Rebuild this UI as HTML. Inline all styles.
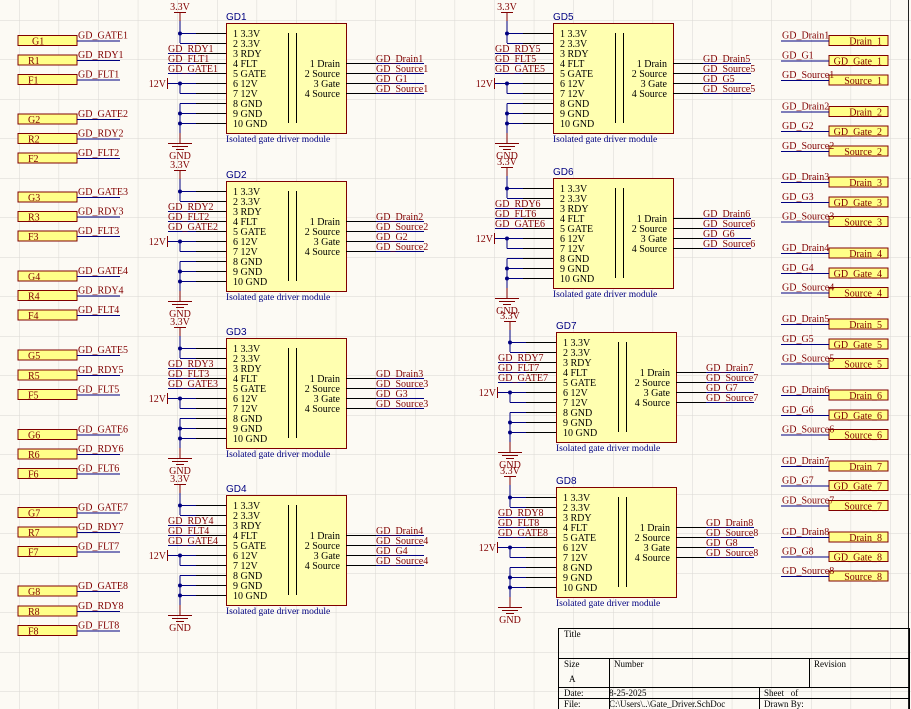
<!DOCTYPE html>
<html><head><meta charset="utf-8"><style>
html,body{margin:0;padding:0;background:#fcfaf4;}
svg{display:block;}
.t{font-family:"Liberation Serif",serif;font-size:10px;fill:#000;}
.n{font-family:"Liberation Serif",serif;font-size:10px;fill:#800000;}
.b{font-family:"Liberation Sans",sans-serif;font-size:10px;fill:#000080;}
.bs{font-family:"Liberation Serif",serif;font-size:9.5px;fill:#000080;}
.k{stroke:#000;stroke-width:1;}
.w{stroke:#000080;stroke-width:1;}
.r{stroke:#800000;stroke-width:1;}
.tb{font-family:"Liberation Serif",serif;font-size:9px;fill:#000;}
</style></head><body>
<svg width="911" height="709" viewBox="0 0 911 709" xmlns="http://www.w3.org/2000/svg">
<defs>
<pattern id="g" x="19" y="20" width="39.6" height="39.5" patternUnits="userSpaceOnUse">
<path d="M0 0H39.6M0 0V39.5" stroke="#d9d7d2" stroke-width="1" fill="none"/>
</pattern>
</defs>
<rect width="911" height="709" fill="#fcfaf4"/>
<rect width="911" height="709" fill="url(#g)"/>
<line x1="908.5" y1="0" x2="908.5" y2="709" stroke="#222" stroke-width="1"/>

<!-- LEFT PORTS -->
<g>
<g transform="translate(0,40.5)"><rect x="18" y="-5" width="59" height="10" fill="#ffff88" stroke="#800000"/><text class="n" x="32" y="4">G1</text><line class="w" x1="77" y1="0.5" x2="120" y2="0.5"/><text class="n" x="78" y="-2">GD_GATE1</text></g>
<g transform="translate(0,60)"><rect x="18" y="-5" width="59" height="10" fill="#ffff88" stroke="#800000"/><text class="n" x="28" y="4">R1</text><line class="w" x1="77" y1="0.5" x2="120" y2="0.5"/><text class="n" x="78" y="-2">GD_RDY1</text></g>
<g transform="translate(0,79.5)"><rect x="18" y="-5" width="59" height="10" fill="#ffff88" stroke="#800000"/><text class="n" x="28" y="4">F1</text><line class="w" x1="77" y1="0.5" x2="120" y2="0.5"/><text class="n" x="78" y="-2">GD_FLT1</text></g>

<g transform="translate(0,119)"><rect x="18" y="-5" width="59" height="10" fill="#ffff88" stroke="#800000"/><text class="n" x="28" y="4">G2</text><line class="w" x1="77" y1="0.5" x2="120" y2="0.5"/><text class="n" x="78" y="-2">GD_GATE2</text></g>
<g transform="translate(0,138.5)"><rect x="18" y="-5" width="59" height="10" fill="#ffff88" stroke="#800000"/><text class="n" x="28" y="4">R2</text><line class="w" x1="77" y1="0.5" x2="120" y2="0.5"/><text class="n" x="78" y="-2">GD_RDY2</text></g>
<g transform="translate(0,158)"><rect x="18" y="-5" width="59" height="10" fill="#ffff88" stroke="#800000"/><text class="n" x="28" y="4">F2</text><line class="w" x1="77" y1="0.5" x2="120" y2="0.5"/><text class="n" x="78" y="-2">GD_FLT2</text></g>

<g transform="translate(0,197)"><rect x="18" y="-5" width="59" height="10" fill="#ffff88" stroke="#800000"/><text class="n" x="28" y="4">G3</text><line class="w" x1="77" y1="0.5" x2="120" y2="0.5"/><text class="n" x="78" y="-2">GD_GATE3</text></g>
<g transform="translate(0,216.5)"><rect x="18" y="-5" width="59" height="10" fill="#ffff88" stroke="#800000"/><text class="n" x="28" y="4">R3</text><line class="w" x1="77" y1="0.5" x2="120" y2="0.5"/><text class="n" x="78" y="-2">GD_RDY3</text></g>
<g transform="translate(0,236)"><rect x="18" y="-5" width="59" height="10" fill="#ffff88" stroke="#800000"/><text class="n" x="28" y="4">F3</text><line class="w" x1="77" y1="0.5" x2="120" y2="0.5"/><text class="n" x="78" y="-2">GD_FLT3</text></g>

<g transform="translate(0,276)"><rect x="18" y="-5" width="59" height="10" fill="#ffff88" stroke="#800000"/><text class="n" x="28" y="4">G4</text><line class="w" x1="77" y1="0.5" x2="120" y2="0.5"/><text class="n" x="78" y="-2">GD_GATE4</text></g>
<g transform="translate(0,295.5)"><rect x="18" y="-5" width="59" height="10" fill="#ffff88" stroke="#800000"/><text class="n" x="28" y="4">R4</text><line class="w" x1="77" y1="0.5" x2="120" y2="0.5"/><text class="n" x="78" y="-2">GD_RDY4</text></g>
<g transform="translate(0,315)"><rect x="18" y="-5" width="59" height="10" fill="#ffff88" stroke="#800000"/><text class="n" x="28" y="4">F4</text><line class="w" x1="77" y1="0.5" x2="120" y2="0.5"/><text class="n" x="78" y="-2">GD_FLT4</text></g>

<g transform="translate(0,355)"><rect x="18" y="-5" width="59" height="10" fill="#ffff88" stroke="#800000"/><text class="n" x="28" y="4">G5</text><line class="w" x1="77" y1="0.5" x2="120" y2="0.5"/><text class="n" x="78" y="-2">GD_GATE5</text></g>
<g transform="translate(0,375)"><rect x="18" y="-5" width="59" height="10" fill="#ffff88" stroke="#800000"/><text class="n" x="28" y="4">R5</text><line class="w" x1="77" y1="0.5" x2="120" y2="0.5"/><text class="n" x="78" y="-2">GD_RDY5</text></g>
<g transform="translate(0,394.5)"><rect x="18" y="-5" width="59" height="10" fill="#ffff88" stroke="#800000"/><text class="n" x="28" y="4">F5</text><line class="w" x1="77" y1="0.5" x2="120" y2="0.5"/><text class="n" x="78" y="-2">GD_FLT5</text></g>

<g transform="translate(0,434.5)"><rect x="18" y="-5" width="59" height="10" fill="#ffff88" stroke="#800000"/><text class="n" x="28" y="4">G6</text><line class="w" x1="77" y1="0.5" x2="120" y2="0.5"/><text class="n" x="78" y="-2">GD_GATE6</text></g>
<g transform="translate(0,454)"><rect x="18" y="-5" width="59" height="10" fill="#ffff88" stroke="#800000"/><text class="n" x="28" y="4">R6</text><line class="w" x1="77" y1="0.5" x2="120" y2="0.5"/><text class="n" x="78" y="-2">GD_RDY6</text></g>
<g transform="translate(0,473.5)"><rect x="18" y="-5" width="59" height="10" fill="#ffff88" stroke="#800000"/><text class="n" x="28" y="4">F6</text><line class="w" x1="77" y1="0.5" x2="120" y2="0.5"/><text class="n" x="78" y="-2">GD_FLT6</text></g>

<g transform="translate(0,512.5)"><rect x="18" y="-5" width="59" height="10" fill="#ffff88" stroke="#800000"/><text class="n" x="28" y="4">G7</text><line class="w" x1="77" y1="0.5" x2="120" y2="0.5"/><text class="n" x="78" y="-2">GD_GATE7</text></g>
<g transform="translate(0,532)"><rect x="18" y="-5" width="59" height="10" fill="#ffff88" stroke="#800000"/><text class="n" x="28" y="4">R7</text><line class="w" x1="77" y1="0.5" x2="120" y2="0.5"/><text class="n" x="78" y="-2">GD_RDY7</text></g>
<g transform="translate(0,551.5)"><rect x="18" y="-5" width="59" height="10" fill="#ffff88" stroke="#800000"/><text class="n" x="28" y="4">F7</text><line class="w" x1="77" y1="0.5" x2="120" y2="0.5"/><text class="n" x="78" y="-2">GD_FLT7</text></g>

<g transform="translate(0,591)"><rect x="18" y="-5" width="59" height="10" fill="#ffff88" stroke="#800000"/><text class="n" x="28" y="4">G8</text><line class="w" x1="77" y1="0.5" x2="120" y2="0.5"/><text class="n" x="78" y="-2">GD_GATE8</text></g>
<g transform="translate(0,611)"><rect x="18" y="-5" width="59" height="10" fill="#ffff88" stroke="#800000"/><text class="n" x="28" y="4">R8</text><line class="w" x1="77" y1="0.5" x2="120" y2="0.5"/><text class="n" x="78" y="-2">GD_RDY8</text></g>
<g transform="translate(0,630.5)"><rect x="18" y="-5" width="59" height="10" fill="#ffff88" stroke="#800000"/><text class="n" x="28" y="4">F8</text><line class="w" x1="77" y1="0.5" x2="120" y2="0.5"/><text class="n" x="78" y="-2">GD_FLT8</text></g>
</g>

<!-- RIGHT PORTS -->
<g>
<g transform="translate(0,40.5)"><rect x="829" y="-5" width="59" height="10" fill="#ffff88" stroke="#800000"/><text class="n" x="882" y="4" text-anchor="end">Drain_1</text><line class="w" x1="781" y1="0.5" x2="829" y2="0.5"/><text class="n" x="782" y="-2">GD_Drain1</text></g>
<g transform="translate(0,60.5)"><rect x="829" y="-5" width="59" height="10" fill="#ffff88" stroke="#800000"/><text class="n" x="882" y="4" text-anchor="end">GD_Gate_1</text><line class="w" x1="781" y1="0.5" x2="829" y2="0.5"/><text class="n" x="782" y="-2">GD_G1</text></g>
<g transform="translate(0,80)"><rect x="829" y="-5" width="59" height="10" fill="#ffff88" stroke="#800000"/><text class="n" x="882" y="4" text-anchor="end">Source_1</text><line class="w" x1="781" y1="0.5" x2="829" y2="0.5"/><text class="n" x="782" y="-2">GD_Source1</text></g>

<g transform="translate(0,111.5)"><rect x="829" y="-5" width="59" height="10" fill="#ffff88" stroke="#800000"/><text class="n" x="882" y="4" text-anchor="end">Drain_2</text><line class="w" x1="781" y1="0.5" x2="829" y2="0.5"/><text class="n" x="782" y="-2">GD_Drain2</text></g>
<g transform="translate(0,131)"><rect x="829" y="-5" width="59" height="10" fill="#ffff88" stroke="#800000"/><text class="n" x="882" y="4" text-anchor="end">GD_Gate_2</text><line class="w" x1="781" y1="0.5" x2="829" y2="0.5"/><text class="n" x="782" y="-2">GD_G2</text></g>
<g transform="translate(0,151)"><rect x="829" y="-5" width="59" height="10" fill="#ffff88" stroke="#800000"/><text class="n" x="882" y="4" text-anchor="end">Source_2</text><line class="w" x1="781" y1="0.5" x2="829" y2="0.5"/><text class="n" x="782" y="-2">GD_Source2</text></g>

<g transform="translate(0,182)"><rect x="829" y="-5" width="59" height="10" fill="#ffff88" stroke="#800000"/><text class="n" x="882" y="4" text-anchor="end">Drain_3</text><line class="w" x1="781" y1="0.5" x2="829" y2="0.5"/><text class="n" x="782" y="-2">GD_Drain3</text></g>
<g transform="translate(0,202)"><rect x="829" y="-5" width="59" height="10" fill="#ffff88" stroke="#800000"/><text class="n" x="882" y="4" text-anchor="end">GD_Gate_3</text><line class="w" x1="781" y1="0.5" x2="829" y2="0.5"/><text class="n" x="782" y="-2">GD_G3</text></g>
<g transform="translate(0,221.5)"><rect x="829" y="-5" width="59" height="10" fill="#ffff88" stroke="#800000"/><text class="n" x="882" y="4" text-anchor="end">Source_3</text><line class="w" x1="781" y1="0.5" x2="829" y2="0.5"/><text class="n" x="782" y="-2">GD_Source3</text></g>

<g transform="translate(0,253)"><rect x="829" y="-5" width="59" height="10" fill="#ffff88" stroke="#800000"/><text class="n" x="882" y="4" text-anchor="end">Drain_4</text><line class="w" x1="781" y1="0.5" x2="829" y2="0.5"/><text class="n" x="782" y="-2">GD_Drain4</text></g>
<g transform="translate(0,273)"><rect x="829" y="-5" width="59" height="10" fill="#ffff88" stroke="#800000"/><text class="n" x="882" y="4" text-anchor="end">GD_Gate_4</text><line class="w" x1="781" y1="0.5" x2="829" y2="0.5"/><text class="n" x="782" y="-2">GD_G4</text></g>
<g transform="translate(0,292.5)"><rect x="829" y="-5" width="59" height="10" fill="#ffff88" stroke="#800000"/><text class="n" x="882" y="4" text-anchor="end">Source_4</text><line class="w" x1="781" y1="0.5" x2="829" y2="0.5"/><text class="n" x="782" y="-2">GD_Source4</text></g>

<g transform="translate(0,324)"><rect x="829" y="-5" width="59" height="10" fill="#ffff88" stroke="#800000"/><text class="n" x="882" y="4" text-anchor="end">Drain_5</text><line class="w" x1="781" y1="0.5" x2="829" y2="0.5"/><text class="n" x="782" y="-2">GD_Drain5</text></g>
<g transform="translate(0,344)"><rect x="829" y="-5" width="59" height="10" fill="#ffff88" stroke="#800000"/><text class="n" x="882" y="4" text-anchor="end">GD_Gate_5</text><line class="w" x1="781" y1="0.5" x2="829" y2="0.5"/><text class="n" x="782" y="-2">GD_G5</text></g>
<g transform="translate(0,363.5)"><rect x="829" y="-5" width="59" height="10" fill="#ffff88" stroke="#800000"/><text class="n" x="882" y="4" text-anchor="end">Source_5</text><line class="w" x1="781" y1="0.5" x2="829" y2="0.5"/><text class="n" x="782" y="-2">GD_Source5</text></g>

<g transform="translate(0,395)"><rect x="829" y="-5" width="59" height="10" fill="#ffff88" stroke="#800000"/><text class="n" x="882" y="4" text-anchor="end">Drain_6</text><line class="w" x1="781" y1="0.5" x2="829" y2="0.5"/><text class="n" x="782" y="-2">GD_Drain6</text></g>
<g transform="translate(0,415)"><rect x="829" y="-5" width="59" height="10" fill="#ffff88" stroke="#800000"/><text class="n" x="882" y="4" text-anchor="end">GD_Gate_6</text><line class="w" x1="781" y1="0.5" x2="829" y2="0.5"/><text class="n" x="782" y="-2">GD_G6</text></g>
<g transform="translate(0,434.5)"><rect x="829" y="-5" width="59" height="10" fill="#ffff88" stroke="#800000"/><text class="n" x="882" y="4" text-anchor="end">Source_6</text><line class="w" x1="781" y1="0.5" x2="829" y2="0.5"/><text class="n" x="782" y="-2">GD_Source6</text></g>

<g transform="translate(0,466)"><rect x="829" y="-5" width="59" height="10" fill="#ffff88" stroke="#800000"/><text class="n" x="882" y="4" text-anchor="end">Drain_7</text><line class="w" x1="781" y1="0.5" x2="829" y2="0.5"/><text class="n" x="782" y="-2">GD_Drain7</text></g>
<g transform="translate(0,485.5)"><rect x="829" y="-5" width="59" height="10" fill="#ffff88" stroke="#800000"/><text class="n" x="882" y="4" text-anchor="end">GD_Gate_7</text><line class="w" x1="781" y1="0.5" x2="829" y2="0.5"/><text class="n" x="782" y="-2">GD_G7</text></g>
<g transform="translate(0,505.5)"><rect x="829" y="-5" width="59" height="10" fill="#ffff88" stroke="#800000"/><text class="n" x="882" y="4" text-anchor="end">Source_7</text><line class="w" x1="781" y1="0.5" x2="829" y2="0.5"/><text class="n" x="782" y="-2">GD_Source7</text></g>

<g transform="translate(0,537)"><rect x="829" y="-5" width="59" height="10" fill="#ffff88" stroke="#800000"/><text class="n" x="882" y="4" text-anchor="end">Drain_8</text><line class="w" x1="781" y1="0.5" x2="829" y2="0.5"/><text class="n" x="782" y="-2">GD_Drain8</text></g>
<g transform="translate(0,556.5)"><rect x="829" y="-5" width="59" height="10" fill="#ffff88" stroke="#800000"/><text class="n" x="882" y="4" text-anchor="end">GD_Gate_8</text><line class="w" x1="781" y1="0.5" x2="829" y2="0.5"/><text class="n" x="782" y="-2">GD_G8</text></g>
<g transform="translate(0,576)"><rect x="829" y="-5" width="59" height="10" fill="#ffff88" stroke="#800000"/><text class="n" x="882" y="4" text-anchor="end">Source_8</text><line class="w" x1="781" y1="0.5" x2="829" y2="0.5"/><text class="n" x="782" y="-2">GD_Source8</text></g>
</g>

<!-- DRIVER BLOCKS -->
<!-- GD1 -->
<g transform="translate(226,23)">
<line class="r" x1="-46" y1="-10" x2="-46" y2="-2"/><line class="r" x1="-52" y1="-10.5" x2="-40" y2="-10.5"/><text class="n" x="-46" y="-13" text-anchor="middle">3.3V</text>
<line class="w" x1="-46" y1="-2" x2="-46" y2="20"/>
<line class="w" x1="-46" y1="10.5" x2="-30" y2="10.5"/><line class="k" x1="-30" y1="10.5" x2="0" y2="10.5"/>
<line class="w" x1="-46" y1="20.5" x2="-30" y2="20.5"/><line class="k" x1="-30" y1="20.5" x2="0" y2="20.5"/>
<circle cx="-46" cy="10.5" r="2" fill="#000080"/>
<line class="w" x1="-58" y1="30.5" x2="-30" y2="30.5"/><line class="k" x1="-30" y1="30.5" x2="0" y2="30.5"/><text class="n" x="-58" y="29">GD_RDY1</text>
<line class="w" x1="-58" y1="40.5" x2="-30" y2="40.5"/><line class="k" x1="-30" y1="40.5" x2="0" y2="40.5"/><text class="n" x="-58" y="39">GD_FLT1</text>
<line class="w" x1="-58" y1="50.5" x2="-30" y2="50.5"/><line class="k" x1="-30" y1="50.5" x2="0" y2="50.5"/><text class="n" x="-58" y="49">GD_GATE1</text>
<line class="r" x1="-58.5" y1="55" x2="-58.5" y2="66"/><line class="w" x1="-58" y1="60.5" x2="-30" y2="60.5"/><line class="k" x1="-30" y1="60.5" x2="0" y2="60.5"/><text class="n" x="-60" y="64" text-anchor="end">12V</text>
<line class="w" x1="-46" y1="60.5" x2="-46" y2="70.5"/><line class="w" x1="-46" y1="70.5" x2="-30" y2="70.5"/><line class="k" x1="-30" y1="70.5" x2="0" y2="70.5"/>
<circle cx="-46" cy="60.5" r="2" fill="#000080"/>
<line class="w" x1="-46" y1="80.5" x2="-30" y2="80.5"/><line class="k" x1="-30" y1="80.5" x2="0" y2="80.5"/>
<line class="w" x1="-46" y1="90.5" x2="-30" y2="90.5"/><line class="k" x1="-30" y1="90.5" x2="0" y2="90.5"/>
<line class="w" x1="-46" y1="100.5" x2="-30" y2="100.5"/><line class="k" x1="-30" y1="100.5" x2="0" y2="100.5"/>
<line class="w" x1="-46" y1="80.5" x2="-46" y2="110"/><line class="r" x1="-46" y1="110" x2="-46" y2="120"/>
<circle cx="-46" cy="90.5" r="2" fill="#000080"/><circle cx="-46" cy="100.5" r="2" fill="#000080"/>
<line class="r" x1="-58" y1="120.5" x2="-34" y2="120.5"/><line class="r" x1="-54" y1="123.5" x2="-38" y2="123.5"/><line class="r" x1="-50" y1="126.5" x2="-42" y2="126.5"/>
<text class="n" x="-46" y="136" text-anchor="middle">GND</text>
<rect x="0.5" y="0.5" width="120" height="110" fill="#ffffb0" stroke="#800000"/>
<line class="k" x1="62.5" y1="10" x2="62.5" y2="100"/><line class="k" x1="70.5" y1="10" x2="70.5" y2="100"/>
<text class="t" x="7" y="14">1 3.3V</text><text class="t" x="7" y="24">2 3.3V</text><text class="t" x="7" y="34">3 RDY</text><text class="t" x="7" y="44">4 FLT</text><text class="t" x="7" y="54">5 GATE</text><text class="t" x="7" y="64">6 12V</text><text class="t" x="7" y="74">7 12V</text><text class="t" x="7" y="84">8 GND</text><text class="t" x="7" y="94">9 GND</text><text class="t" x="7" y="104">10 GND</text>
<text class="t" x="114" y="44" text-anchor="end">1 Drain</text><text class="t" x="114" y="54" text-anchor="end">2 Source</text><text class="t" x="114" y="64" text-anchor="end">3 Gate</text><text class="t" x="114" y="74" text-anchor="end">4 Source</text>
<line class="k" x1="120" y1="40.5" x2="150" y2="40.5"/><line class="w" x1="150" y1="40.5" x2="198" y2="40.5"/><text class="n" x="150" y="39">GD_Drain1</text>
<line class="k" x1="120" y1="50.5" x2="150" y2="50.5"/><line class="w" x1="150" y1="50.5" x2="198" y2="50.5"/><text class="n" x="150" y="49">GD_Source1</text>
<line class="k" x1="120" y1="60.5" x2="150" y2="60.5"/><line class="w" x1="150" y1="60.5" x2="198" y2="60.5"/><text class="n" x="150" y="59">GD_G1</text>
<line class="k" x1="120" y1="70.5" x2="150" y2="70.5"/><line class="w" x1="150" y1="70.5" x2="198" y2="70.5"/><text class="n" x="150" y="69">GD_Source1</text>
<text class="b" x="0" y="-3">GD1</text><text class="bs" x="0" y="119">Isolated gate driver module</text>
</g>

<!-- GD2 -->
<g transform="translate(226,181)">
<line class="r" x1="-46" y1="-10" x2="-46" y2="-2"/><line class="r" x1="-52" y1="-10.5" x2="-40" y2="-10.5"/><text class="n" x="-46" y="-13" text-anchor="middle">3.3V</text>
<line class="w" x1="-46" y1="-2" x2="-46" y2="20"/>
<line class="w" x1="-46" y1="10.5" x2="-30" y2="10.5"/><line class="k" x1="-30" y1="10.5" x2="0" y2="10.5"/>
<line class="w" x1="-46" y1="20.5" x2="-30" y2="20.5"/><line class="k" x1="-30" y1="20.5" x2="0" y2="20.5"/>
<circle cx="-46" cy="10.5" r="2" fill="#000080"/>
<line class="w" x1="-58" y1="30.5" x2="-30" y2="30.5"/><line class="k" x1="-30" y1="30.5" x2="0" y2="30.5"/><text class="n" x="-58" y="29">GD_RDY2</text>
<line class="w" x1="-58" y1="40.5" x2="-30" y2="40.5"/><line class="k" x1="-30" y1="40.5" x2="0" y2="40.5"/><text class="n" x="-58" y="39">GD_FLT2</text>
<line class="w" x1="-58" y1="50.5" x2="-30" y2="50.5"/><line class="k" x1="-30" y1="50.5" x2="0" y2="50.5"/><text class="n" x="-58" y="49">GD_GATE2</text>
<line class="r" x1="-58.5" y1="55" x2="-58.5" y2="66"/><line class="w" x1="-58" y1="60.5" x2="-30" y2="60.5"/><line class="k" x1="-30" y1="60.5" x2="0" y2="60.5"/><text class="n" x="-60" y="64" text-anchor="end">12V</text>
<line class="w" x1="-46" y1="60.5" x2="-46" y2="70.5"/><line class="w" x1="-46" y1="70.5" x2="-30" y2="70.5"/><line class="k" x1="-30" y1="70.5" x2="0" y2="70.5"/>
<circle cx="-46" cy="60.5" r="2" fill="#000080"/>
<line class="w" x1="-46" y1="80.5" x2="-30" y2="80.5"/><line class="k" x1="-30" y1="80.5" x2="0" y2="80.5"/>
<line class="w" x1="-46" y1="90.5" x2="-30" y2="90.5"/><line class="k" x1="-30" y1="90.5" x2="0" y2="90.5"/>
<line class="w" x1="-46" y1="100.5" x2="-30" y2="100.5"/><line class="k" x1="-30" y1="100.5" x2="0" y2="100.5"/>
<line class="w" x1="-46" y1="80.5" x2="-46" y2="110"/><line class="r" x1="-46" y1="110" x2="-46" y2="120"/>
<circle cx="-46" cy="90.5" r="2" fill="#000080"/><circle cx="-46" cy="100.5" r="2" fill="#000080"/>
<line class="r" x1="-58" y1="120.5" x2="-34" y2="120.5"/><line class="r" x1="-54" y1="123.5" x2="-38" y2="123.5"/><line class="r" x1="-50" y1="126.5" x2="-42" y2="126.5"/>
<text class="n" x="-46" y="136" text-anchor="middle">GND</text>
<rect x="0.5" y="0.5" width="120" height="110" fill="#ffffb0" stroke="#800000"/>
<line class="k" x1="62.5" y1="10" x2="62.5" y2="100"/><line class="k" x1="70.5" y1="10" x2="70.5" y2="100"/>
<text class="t" x="7" y="14">1 3.3V</text><text class="t" x="7" y="24">2 3.3V</text><text class="t" x="7" y="34">3 RDY</text><text class="t" x="7" y="44">4 FLT</text><text class="t" x="7" y="54">5 GATE</text><text class="t" x="7" y="64">6 12V</text><text class="t" x="7" y="74">7 12V</text><text class="t" x="7" y="84">8 GND</text><text class="t" x="7" y="94">9 GND</text><text class="t" x="7" y="104">10 GND</text>
<text class="t" x="114" y="44" text-anchor="end">1 Drain</text><text class="t" x="114" y="54" text-anchor="end">2 Source</text><text class="t" x="114" y="64" text-anchor="end">3 Gate</text><text class="t" x="114" y="74" text-anchor="end">4 Source</text>
<line class="k" x1="120" y1="40.5" x2="150" y2="40.5"/><line class="w" x1="150" y1="40.5" x2="198" y2="40.5"/><text class="n" x="150" y="39">GD_Drain2</text>
<line class="k" x1="120" y1="50.5" x2="150" y2="50.5"/><line class="w" x1="150" y1="50.5" x2="198" y2="50.5"/><text class="n" x="150" y="49">GD_Source2</text>
<line class="k" x1="120" y1="60.5" x2="150" y2="60.5"/><line class="w" x1="150" y1="60.5" x2="198" y2="60.5"/><text class="n" x="150" y="59">GD_G2</text>
<line class="k" x1="120" y1="70.5" x2="150" y2="70.5"/><line class="w" x1="150" y1="70.5" x2="198" y2="70.5"/><text class="n" x="150" y="69">GD_Source2</text>
<text class="b" x="0" y="-3">GD2</text><text class="bs" x="0" y="119">Isolated gate driver module</text>
</g>

<!-- GD3 -->
<g transform="translate(226,338)">
<line class="r" x1="-46" y1="-10" x2="-46" y2="-2"/><line class="r" x1="-52" y1="-10.5" x2="-40" y2="-10.5"/><text class="n" x="-46" y="-13" text-anchor="middle">3.3V</text>
<line class="w" x1="-46" y1="-2" x2="-46" y2="20"/>
<line class="w" x1="-46" y1="10.5" x2="-30" y2="10.5"/><line class="k" x1="-30" y1="10.5" x2="0" y2="10.5"/>
<line class="w" x1="-46" y1="20.5" x2="-30" y2="20.5"/><line class="k" x1="-30" y1="20.5" x2="0" y2="20.5"/>
<circle cx="-46" cy="10.5" r="2" fill="#000080"/>
<line class="w" x1="-58" y1="30.5" x2="-30" y2="30.5"/><line class="k" x1="-30" y1="30.5" x2="0" y2="30.5"/><text class="n" x="-58" y="29">GD_RDY3</text>
<line class="w" x1="-58" y1="40.5" x2="-30" y2="40.5"/><line class="k" x1="-30" y1="40.5" x2="0" y2="40.5"/><text class="n" x="-58" y="39">GD_FLT3</text>
<line class="w" x1="-58" y1="50.5" x2="-30" y2="50.5"/><line class="k" x1="-30" y1="50.5" x2="0" y2="50.5"/><text class="n" x="-58" y="49">GD_GATE3</text>
<line class="r" x1="-58.5" y1="55" x2="-58.5" y2="66"/><line class="w" x1="-58" y1="60.5" x2="-30" y2="60.5"/><line class="k" x1="-30" y1="60.5" x2="0" y2="60.5"/><text class="n" x="-60" y="64" text-anchor="end">12V</text>
<line class="w" x1="-46" y1="60.5" x2="-46" y2="70.5"/><line class="w" x1="-46" y1="70.5" x2="-30" y2="70.5"/><line class="k" x1="-30" y1="70.5" x2="0" y2="70.5"/>
<circle cx="-46" cy="60.5" r="2" fill="#000080"/>
<line class="w" x1="-46" y1="80.5" x2="-30" y2="80.5"/><line class="k" x1="-30" y1="80.5" x2="0" y2="80.5"/>
<line class="w" x1="-46" y1="90.5" x2="-30" y2="90.5"/><line class="k" x1="-30" y1="90.5" x2="0" y2="90.5"/>
<line class="w" x1="-46" y1="100.5" x2="-30" y2="100.5"/><line class="k" x1="-30" y1="100.5" x2="0" y2="100.5"/>
<line class="w" x1="-46" y1="80.5" x2="-46" y2="110"/><line class="r" x1="-46" y1="110" x2="-46" y2="120"/>
<circle cx="-46" cy="90.5" r="2" fill="#000080"/><circle cx="-46" cy="100.5" r="2" fill="#000080"/>
<line class="r" x1="-58" y1="120.5" x2="-34" y2="120.5"/><line class="r" x1="-54" y1="123.5" x2="-38" y2="123.5"/><line class="r" x1="-50" y1="126.5" x2="-42" y2="126.5"/>
<text class="n" x="-46" y="136" text-anchor="middle">GND</text>
<rect x="0.5" y="0.5" width="120" height="110" fill="#ffffb0" stroke="#800000"/>
<line class="k" x1="62.5" y1="10" x2="62.5" y2="100"/><line class="k" x1="70.5" y1="10" x2="70.5" y2="100"/>
<text class="t" x="7" y="14">1 3.3V</text><text class="t" x="7" y="24">2 3.3V</text><text class="t" x="7" y="34">3 RDY</text><text class="t" x="7" y="44">4 FLT</text><text class="t" x="7" y="54">5 GATE</text><text class="t" x="7" y="64">6 12V</text><text class="t" x="7" y="74">7 12V</text><text class="t" x="7" y="84">8 GND</text><text class="t" x="7" y="94">9 GND</text><text class="t" x="7" y="104">10 GND</text>
<text class="t" x="114" y="44" text-anchor="end">1 Drain</text><text class="t" x="114" y="54" text-anchor="end">2 Source</text><text class="t" x="114" y="64" text-anchor="end">3 Gate</text><text class="t" x="114" y="74" text-anchor="end">4 Source</text>
<line class="k" x1="120" y1="40.5" x2="150" y2="40.5"/><line class="w" x1="150" y1="40.5" x2="198" y2="40.5"/><text class="n" x="150" y="39">GD_Drain3</text>
<line class="k" x1="120" y1="50.5" x2="150" y2="50.5"/><line class="w" x1="150" y1="50.5" x2="198" y2="50.5"/><text class="n" x="150" y="49">GD_Source3</text>
<line class="k" x1="120" y1="60.5" x2="150" y2="60.5"/><line class="w" x1="150" y1="60.5" x2="198" y2="60.5"/><text class="n" x="150" y="59">GD_G3</text>
<line class="k" x1="120" y1="70.5" x2="150" y2="70.5"/><line class="w" x1="150" y1="70.5" x2="198" y2="70.5"/><text class="n" x="150" y="69">GD_Source3</text>
<text class="b" x="0" y="-3">GD3</text><text class="bs" x="0" y="119">Isolated gate driver module</text>
</g>

<!-- GD4 -->
<g transform="translate(226,495)">
<line class="r" x1="-46" y1="-10" x2="-46" y2="-2"/><line class="r" x1="-52" y1="-10.5" x2="-40" y2="-10.5"/><text class="n" x="-46" y="-13" text-anchor="middle">3.3V</text>
<line class="w" x1="-46" y1="-2" x2="-46" y2="20"/>
<line class="w" x1="-46" y1="10.5" x2="-30" y2="10.5"/><line class="k" x1="-30" y1="10.5" x2="0" y2="10.5"/>
<line class="w" x1="-46" y1="20.5" x2="-30" y2="20.5"/><line class="k" x1="-30" y1="20.5" x2="0" y2="20.5"/>
<circle cx="-46" cy="10.5" r="2" fill="#000080"/>
<line class="w" x1="-58" y1="30.5" x2="-30" y2="30.5"/><line class="k" x1="-30" y1="30.5" x2="0" y2="30.5"/><text class="n" x="-58" y="29">GD_RDY4</text>
<line class="w" x1="-58" y1="40.5" x2="-30" y2="40.5"/><line class="k" x1="-30" y1="40.5" x2="0" y2="40.5"/><text class="n" x="-58" y="39">GD_FLT4</text>
<line class="w" x1="-58" y1="50.5" x2="-30" y2="50.5"/><line class="k" x1="-30" y1="50.5" x2="0" y2="50.5"/><text class="n" x="-58" y="49">GD_GATE4</text>
<line class="r" x1="-58.5" y1="55" x2="-58.5" y2="66"/><line class="w" x1="-58" y1="60.5" x2="-30" y2="60.5"/><line class="k" x1="-30" y1="60.5" x2="0" y2="60.5"/><text class="n" x="-60" y="64" text-anchor="end">12V</text>
<line class="w" x1="-46" y1="60.5" x2="-46" y2="70.5"/><line class="w" x1="-46" y1="70.5" x2="-30" y2="70.5"/><line class="k" x1="-30" y1="70.5" x2="0" y2="70.5"/>
<circle cx="-46" cy="60.5" r="2" fill="#000080"/>
<line class="w" x1="-46" y1="80.5" x2="-30" y2="80.5"/><line class="k" x1="-30" y1="80.5" x2="0" y2="80.5"/>
<line class="w" x1="-46" y1="90.5" x2="-30" y2="90.5"/><line class="k" x1="-30" y1="90.5" x2="0" y2="90.5"/>
<line class="w" x1="-46" y1="100.5" x2="-30" y2="100.5"/><line class="k" x1="-30" y1="100.5" x2="0" y2="100.5"/>
<line class="w" x1="-46" y1="80.5" x2="-46" y2="110"/><line class="r" x1="-46" y1="110" x2="-46" y2="120"/>
<circle cx="-46" cy="90.5" r="2" fill="#000080"/><circle cx="-46" cy="100.5" r="2" fill="#000080"/>
<line class="r" x1="-58" y1="120.5" x2="-34" y2="120.5"/><line class="r" x1="-54" y1="123.5" x2="-38" y2="123.5"/><line class="r" x1="-50" y1="126.5" x2="-42" y2="126.5"/>
<text class="n" x="-46" y="136" text-anchor="middle">GND</text>
<rect x="0.5" y="0.5" width="120" height="110" fill="#ffffb0" stroke="#800000"/>
<line class="k" x1="62.5" y1="10" x2="62.5" y2="100"/><line class="k" x1="70.5" y1="10" x2="70.5" y2="100"/>
<text class="t" x="7" y="14">1 3.3V</text><text class="t" x="7" y="24">2 3.3V</text><text class="t" x="7" y="34">3 RDY</text><text class="t" x="7" y="44">4 FLT</text><text class="t" x="7" y="54">5 GATE</text><text class="t" x="7" y="64">6 12V</text><text class="t" x="7" y="74">7 12V</text><text class="t" x="7" y="84">8 GND</text><text class="t" x="7" y="94">9 GND</text><text class="t" x="7" y="104">10 GND</text>
<text class="t" x="114" y="44" text-anchor="end">1 Drain</text><text class="t" x="114" y="54" text-anchor="end">2 Source</text><text class="t" x="114" y="64" text-anchor="end">3 Gate</text><text class="t" x="114" y="74" text-anchor="end">4 Source</text>
<line class="k" x1="120" y1="40.5" x2="150" y2="40.5"/><line class="w" x1="150" y1="40.5" x2="198" y2="40.5"/><text class="n" x="150" y="39">GD_Drain4</text>
<line class="k" x1="120" y1="50.5" x2="150" y2="50.5"/><line class="w" x1="150" y1="50.5" x2="198" y2="50.5"/><text class="n" x="150" y="49">GD_Source4</text>
<line class="k" x1="120" y1="60.5" x2="150" y2="60.5"/><line class="w" x1="150" y1="60.5" x2="198" y2="60.5"/><text class="n" x="150" y="59">GD_G4</text>
<line class="k" x1="120" y1="70.5" x2="150" y2="70.5"/><line class="w" x1="150" y1="70.5" x2="198" y2="70.5"/><text class="n" x="150" y="69">GD_Source4</text>
<text class="b" x="0" y="-3">GD4</text><text class="bs" x="0" y="119">Isolated gate driver module</text>
</g>

<!-- GD5 -->
<g transform="translate(553,23)">
<line class="r" x1="-46" y1="-10" x2="-46" y2="-2"/><line class="r" x1="-52" y1="-10.5" x2="-40" y2="-10.5"/><text class="n" x="-46" y="-13" text-anchor="middle">3.3V</text>
<line class="w" x1="-46" y1="-2" x2="-46" y2="20"/>
<line class="w" x1="-46" y1="10.5" x2="-30" y2="10.5"/><line class="k" x1="-30" y1="10.5" x2="0" y2="10.5"/>
<line class="w" x1="-46" y1="20.5" x2="-30" y2="20.5"/><line class="k" x1="-30" y1="20.5" x2="0" y2="20.5"/>
<circle cx="-46" cy="10.5" r="2" fill="#000080"/>
<line class="w" x1="-58" y1="30.5" x2="-30" y2="30.5"/><line class="k" x1="-30" y1="30.5" x2="0" y2="30.5"/><text class="n" x="-58" y="29">GD_RDY5</text>
<line class="w" x1="-58" y1="40.5" x2="-30" y2="40.5"/><line class="k" x1="-30" y1="40.5" x2="0" y2="40.5"/><text class="n" x="-58" y="39">GD_FLT5</text>
<line class="w" x1="-58" y1="50.5" x2="-30" y2="50.5"/><line class="k" x1="-30" y1="50.5" x2="0" y2="50.5"/><text class="n" x="-58" y="49">GD_GATE5</text>
<line class="r" x1="-58.5" y1="55" x2="-58.5" y2="66"/><line class="w" x1="-58" y1="60.5" x2="-30" y2="60.5"/><line class="k" x1="-30" y1="60.5" x2="0" y2="60.5"/><text class="n" x="-60" y="64" text-anchor="end">12V</text>
<line class="w" x1="-46" y1="60.5" x2="-46" y2="70.5"/><line class="w" x1="-46" y1="70.5" x2="-30" y2="70.5"/><line class="k" x1="-30" y1="70.5" x2="0" y2="70.5"/>
<circle cx="-46" cy="60.5" r="2" fill="#000080"/>
<line class="w" x1="-46" y1="80.5" x2="-30" y2="80.5"/><line class="k" x1="-30" y1="80.5" x2="0" y2="80.5"/>
<line class="w" x1="-46" y1="90.5" x2="-30" y2="90.5"/><line class="k" x1="-30" y1="90.5" x2="0" y2="90.5"/>
<line class="w" x1="-46" y1="100.5" x2="-30" y2="100.5"/><line class="k" x1="-30" y1="100.5" x2="0" y2="100.5"/>
<line class="w" x1="-46" y1="80.5" x2="-46" y2="110"/><line class="r" x1="-46" y1="110" x2="-46" y2="120"/>
<circle cx="-46" cy="90.5" r="2" fill="#000080"/><circle cx="-46" cy="100.5" r="2" fill="#000080"/>
<line class="r" x1="-58" y1="120.5" x2="-34" y2="120.5"/><line class="r" x1="-54" y1="123.5" x2="-38" y2="123.5"/><line class="r" x1="-50" y1="126.5" x2="-42" y2="126.5"/>
<text class="n" x="-46" y="136" text-anchor="middle">GND</text>
<rect x="0.5" y="0.5" width="120" height="110" fill="#ffffb0" stroke="#800000"/>
<line class="k" x1="62.5" y1="10" x2="62.5" y2="100"/><line class="k" x1="70.5" y1="10" x2="70.5" y2="100"/>
<text class="t" x="7" y="14">1 3.3V</text><text class="t" x="7" y="24">2 3.3V</text><text class="t" x="7" y="34">3 RDY</text><text class="t" x="7" y="44">4 FLT</text><text class="t" x="7" y="54">5 GATE</text><text class="t" x="7" y="64">6 12V</text><text class="t" x="7" y="74">7 12V</text><text class="t" x="7" y="84">8 GND</text><text class="t" x="7" y="94">9 GND</text><text class="t" x="7" y="104">10 GND</text>
<text class="t" x="114" y="44" text-anchor="end">1 Drain</text><text class="t" x="114" y="54" text-anchor="end">2 Source</text><text class="t" x="114" y="64" text-anchor="end">3 Gate</text><text class="t" x="114" y="74" text-anchor="end">4 Source</text>
<line class="k" x1="120" y1="40.5" x2="150" y2="40.5"/><line class="w" x1="150" y1="40.5" x2="198" y2="40.5"/><text class="n" x="150" y="39">GD_Drain5</text>
<line class="k" x1="120" y1="50.5" x2="150" y2="50.5"/><line class="w" x1="150" y1="50.5" x2="198" y2="50.5"/><text class="n" x="150" y="49">GD_Source5</text>
<line class="k" x1="120" y1="60.5" x2="150" y2="60.5"/><line class="w" x1="150" y1="60.5" x2="198" y2="60.5"/><text class="n" x="150" y="59">GD_G5</text>
<line class="k" x1="120" y1="70.5" x2="150" y2="70.5"/><line class="w" x1="150" y1="70.5" x2="198" y2="70.5"/><text class="n" x="150" y="69">GD_Source5</text>
<text class="b" x="0" y="-3">GD5</text><text class="bs" x="0" y="119">Isolated gate driver module</text>
</g>

<!-- GD6 -->
<g transform="translate(553,178)">
<line class="r" x1="-46" y1="-10" x2="-46" y2="-2"/><line class="r" x1="-52" y1="-10.5" x2="-40" y2="-10.5"/><text class="n" x="-46" y="-13" text-anchor="middle">3.3V</text>
<line class="w" x1="-46" y1="-2" x2="-46" y2="20"/>
<line class="w" x1="-46" y1="10.5" x2="-30" y2="10.5"/><line class="k" x1="-30" y1="10.5" x2="0" y2="10.5"/>
<line class="w" x1="-46" y1="20.5" x2="-30" y2="20.5"/><line class="k" x1="-30" y1="20.5" x2="0" y2="20.5"/>
<circle cx="-46" cy="10.5" r="2" fill="#000080"/>
<line class="w" x1="-58" y1="30.5" x2="-30" y2="30.5"/><line class="k" x1="-30" y1="30.5" x2="0" y2="30.5"/><text class="n" x="-58" y="29">GD_RDY6</text>
<line class="w" x1="-58" y1="40.5" x2="-30" y2="40.5"/><line class="k" x1="-30" y1="40.5" x2="0" y2="40.5"/><text class="n" x="-58" y="39">GD_FLT6</text>
<line class="w" x1="-58" y1="50.5" x2="-30" y2="50.5"/><line class="k" x1="-30" y1="50.5" x2="0" y2="50.5"/><text class="n" x="-58" y="49">GD_GATE6</text>
<line class="r" x1="-58.5" y1="55" x2="-58.5" y2="66"/><line class="w" x1="-58" y1="60.5" x2="-30" y2="60.5"/><line class="k" x1="-30" y1="60.5" x2="0" y2="60.5"/><text class="n" x="-60" y="64" text-anchor="end">12V</text>
<line class="w" x1="-46" y1="60.5" x2="-46" y2="70.5"/><line class="w" x1="-46" y1="70.5" x2="-30" y2="70.5"/><line class="k" x1="-30" y1="70.5" x2="0" y2="70.5"/>
<circle cx="-46" cy="60.5" r="2" fill="#000080"/>
<line class="w" x1="-46" y1="80.5" x2="-30" y2="80.5"/><line class="k" x1="-30" y1="80.5" x2="0" y2="80.5"/>
<line class="w" x1="-46" y1="90.5" x2="-30" y2="90.5"/><line class="k" x1="-30" y1="90.5" x2="0" y2="90.5"/>
<line class="w" x1="-46" y1="100.5" x2="-30" y2="100.5"/><line class="k" x1="-30" y1="100.5" x2="0" y2="100.5"/>
<line class="w" x1="-46" y1="80.5" x2="-46" y2="110"/><line class="r" x1="-46" y1="110" x2="-46" y2="120"/>
<circle cx="-46" cy="90.5" r="2" fill="#000080"/><circle cx="-46" cy="100.5" r="2" fill="#000080"/>
<line class="r" x1="-58" y1="120.5" x2="-34" y2="120.5"/><line class="r" x1="-54" y1="123.5" x2="-38" y2="123.5"/><line class="r" x1="-50" y1="126.5" x2="-42" y2="126.5"/>
<text class="n" x="-46" y="136" text-anchor="middle">GND</text>
<rect x="0.5" y="0.5" width="120" height="110" fill="#ffffb0" stroke="#800000"/>
<line class="k" x1="62.5" y1="10" x2="62.5" y2="100"/><line class="k" x1="70.5" y1="10" x2="70.5" y2="100"/>
<text class="t" x="7" y="14">1 3.3V</text><text class="t" x="7" y="24">2 3.3V</text><text class="t" x="7" y="34">3 RDY</text><text class="t" x="7" y="44">4 FLT</text><text class="t" x="7" y="54">5 GATE</text><text class="t" x="7" y="64">6 12V</text><text class="t" x="7" y="74">7 12V</text><text class="t" x="7" y="84">8 GND</text><text class="t" x="7" y="94">9 GND</text><text class="t" x="7" y="104">10 GND</text>
<text class="t" x="114" y="44" text-anchor="end">1 Drain</text><text class="t" x="114" y="54" text-anchor="end">2 Source</text><text class="t" x="114" y="64" text-anchor="end">3 Gate</text><text class="t" x="114" y="74" text-anchor="end">4 Source</text>
<line class="k" x1="120" y1="40.5" x2="150" y2="40.5"/><line class="w" x1="150" y1="40.5" x2="198" y2="40.5"/><text class="n" x="150" y="39">GD_Drain6</text>
<line class="k" x1="120" y1="50.5" x2="150" y2="50.5"/><line class="w" x1="150" y1="50.5" x2="198" y2="50.5"/><text class="n" x="150" y="49">GD_Source6</text>
<line class="k" x1="120" y1="60.5" x2="150" y2="60.5"/><line class="w" x1="150" y1="60.5" x2="198" y2="60.5"/><text class="n" x="150" y="59">GD_G6</text>
<line class="k" x1="120" y1="70.5" x2="150" y2="70.5"/><line class="w" x1="150" y1="70.5" x2="198" y2="70.5"/><text class="n" x="150" y="69">GD_Source6</text>
<text class="b" x="0" y="-3">GD6</text><text class="bs" x="0" y="119">Isolated gate driver module</text>
</g>

<!-- GD7 -->
<g transform="translate(556,332)">
<line class="r" x1="-46" y1="-10" x2="-46" y2="-2"/><line class="r" x1="-52" y1="-10.5" x2="-40" y2="-10.5"/><text class="n" x="-46" y="-13" text-anchor="middle">3.3V</text>
<line class="w" x1="-46" y1="-2" x2="-46" y2="20"/>
<line class="w" x1="-46" y1="10.5" x2="-30" y2="10.5"/><line class="k" x1="-30" y1="10.5" x2="0" y2="10.5"/>
<line class="w" x1="-46" y1="20.5" x2="-30" y2="20.5"/><line class="k" x1="-30" y1="20.5" x2="0" y2="20.5"/>
<circle cx="-46" cy="10.5" r="2" fill="#000080"/>
<line class="w" x1="-58" y1="30.5" x2="-30" y2="30.5"/><line class="k" x1="-30" y1="30.5" x2="0" y2="30.5"/><text class="n" x="-58" y="29">GD_RDY7</text>
<line class="w" x1="-58" y1="40.5" x2="-30" y2="40.5"/><line class="k" x1="-30" y1="40.5" x2="0" y2="40.5"/><text class="n" x="-58" y="39">GD_FLT7</text>
<line class="w" x1="-58" y1="50.5" x2="-30" y2="50.5"/><line class="k" x1="-30" y1="50.5" x2="0" y2="50.5"/><text class="n" x="-58" y="49">GD_GATE7</text>
<line class="r" x1="-58.5" y1="55" x2="-58.5" y2="66"/><line class="w" x1="-58" y1="60.5" x2="-30" y2="60.5"/><line class="k" x1="-30" y1="60.5" x2="0" y2="60.5"/><text class="n" x="-60" y="64" text-anchor="end">12V</text>
<line class="w" x1="-46" y1="60.5" x2="-46" y2="70.5"/><line class="w" x1="-46" y1="70.5" x2="-30" y2="70.5"/><line class="k" x1="-30" y1="70.5" x2="0" y2="70.5"/>
<circle cx="-46" cy="60.5" r="2" fill="#000080"/>
<line class="w" x1="-46" y1="80.5" x2="-30" y2="80.5"/><line class="k" x1="-30" y1="80.5" x2="0" y2="80.5"/>
<line class="w" x1="-46" y1="90.5" x2="-30" y2="90.5"/><line class="k" x1="-30" y1="90.5" x2="0" y2="90.5"/>
<line class="w" x1="-46" y1="100.5" x2="-30" y2="100.5"/><line class="k" x1="-30" y1="100.5" x2="0" y2="100.5"/>
<line class="w" x1="-46" y1="80.5" x2="-46" y2="110"/><line class="r" x1="-46" y1="110" x2="-46" y2="120"/>
<circle cx="-46" cy="90.5" r="2" fill="#000080"/><circle cx="-46" cy="100.5" r="2" fill="#000080"/>
<line class="r" x1="-58" y1="120.5" x2="-34" y2="120.5"/><line class="r" x1="-54" y1="123.5" x2="-38" y2="123.5"/><line class="r" x1="-50" y1="126.5" x2="-42" y2="126.5"/>
<text class="n" x="-46" y="136" text-anchor="middle">GND</text>
<rect x="0.5" y="0.5" width="120" height="110" fill="#ffffb0" stroke="#800000"/>
<line class="k" x1="62.5" y1="10" x2="62.5" y2="100"/><line class="k" x1="70.5" y1="10" x2="70.5" y2="100"/>
<text class="t" x="7" y="14">1 3.3V</text><text class="t" x="7" y="24">2 3.3V</text><text class="t" x="7" y="34">3 RDY</text><text class="t" x="7" y="44">4 FLT</text><text class="t" x="7" y="54">5 GATE</text><text class="t" x="7" y="64">6 12V</text><text class="t" x="7" y="74">7 12V</text><text class="t" x="7" y="84">8 GND</text><text class="t" x="7" y="94">9 GND</text><text class="t" x="7" y="104">10 GND</text>
<text class="t" x="114" y="44" text-anchor="end">1 Drain</text><text class="t" x="114" y="54" text-anchor="end">2 Source</text><text class="t" x="114" y="64" text-anchor="end">3 Gate</text><text class="t" x="114" y="74" text-anchor="end">4 Source</text>
<line class="k" x1="120" y1="40.5" x2="150" y2="40.5"/><line class="w" x1="150" y1="40.5" x2="198" y2="40.5"/><text class="n" x="150" y="39">GD_Drain7</text>
<line class="k" x1="120" y1="50.5" x2="150" y2="50.5"/><line class="w" x1="150" y1="50.5" x2="198" y2="50.5"/><text class="n" x="150" y="49">GD_Source7</text>
<line class="k" x1="120" y1="60.5" x2="150" y2="60.5"/><line class="w" x1="150" y1="60.5" x2="198" y2="60.5"/><text class="n" x="150" y="59">GD_G7</text>
<line class="k" x1="120" y1="70.5" x2="150" y2="70.5"/><line class="w" x1="150" y1="70.5" x2="198" y2="70.5"/><text class="n" x="150" y="69">GD_Source7</text>
<text class="b" x="0" y="-3">GD7</text><text class="bs" x="0" y="119">Isolated gate driver module</text>
</g>

<!-- GD8 -->
<g transform="translate(556,487)">
<line class="r" x1="-46" y1="-10" x2="-46" y2="-2"/><line class="r" x1="-52" y1="-10.5" x2="-40" y2="-10.5"/><text class="n" x="-46" y="-13" text-anchor="middle">3.3V</text>
<line class="w" x1="-46" y1="-2" x2="-46" y2="20"/>
<line class="w" x1="-46" y1="10.5" x2="-30" y2="10.5"/><line class="k" x1="-30" y1="10.5" x2="0" y2="10.5"/>
<line class="w" x1="-46" y1="20.5" x2="-30" y2="20.5"/><line class="k" x1="-30" y1="20.5" x2="0" y2="20.5"/>
<circle cx="-46" cy="10.5" r="2" fill="#000080"/>
<line class="w" x1="-58" y1="30.5" x2="-30" y2="30.5"/><line class="k" x1="-30" y1="30.5" x2="0" y2="30.5"/><text class="n" x="-58" y="29">GD_RDY8</text>
<line class="w" x1="-58" y1="40.5" x2="-30" y2="40.5"/><line class="k" x1="-30" y1="40.5" x2="0" y2="40.5"/><text class="n" x="-58" y="39">GD_FLT8</text>
<line class="w" x1="-58" y1="50.5" x2="-30" y2="50.5"/><line class="k" x1="-30" y1="50.5" x2="0" y2="50.5"/><text class="n" x="-58" y="49">GD_GATE8</text>
<line class="r" x1="-58.5" y1="55" x2="-58.5" y2="66"/><line class="w" x1="-58" y1="60.5" x2="-30" y2="60.5"/><line class="k" x1="-30" y1="60.5" x2="0" y2="60.5"/><text class="n" x="-60" y="64" text-anchor="end">12V</text>
<line class="w" x1="-46" y1="60.5" x2="-46" y2="70.5"/><line class="w" x1="-46" y1="70.5" x2="-30" y2="70.5"/><line class="k" x1="-30" y1="70.5" x2="0" y2="70.5"/>
<circle cx="-46" cy="60.5" r="2" fill="#000080"/>
<line class="w" x1="-46" y1="80.5" x2="-30" y2="80.5"/><line class="k" x1="-30" y1="80.5" x2="0" y2="80.5"/>
<line class="w" x1="-46" y1="90.5" x2="-30" y2="90.5"/><line class="k" x1="-30" y1="90.5" x2="0" y2="90.5"/>
<line class="w" x1="-46" y1="100.5" x2="-30" y2="100.5"/><line class="k" x1="-30" y1="100.5" x2="0" y2="100.5"/>
<line class="w" x1="-46" y1="80.5" x2="-46" y2="110"/><line class="r" x1="-46" y1="110" x2="-46" y2="120"/>
<circle cx="-46" cy="90.5" r="2" fill="#000080"/><circle cx="-46" cy="100.5" r="2" fill="#000080"/>
<line class="r" x1="-58" y1="120.5" x2="-34" y2="120.5"/><line class="r" x1="-54" y1="123.5" x2="-38" y2="123.5"/><line class="r" x1="-50" y1="126.5" x2="-42" y2="126.5"/>
<text class="n" x="-46" y="136" text-anchor="middle">GND</text>
<rect x="0.5" y="0.5" width="120" height="110" fill="#ffffb0" stroke="#800000"/>
<line class="k" x1="62.5" y1="10" x2="62.5" y2="100"/><line class="k" x1="70.5" y1="10" x2="70.5" y2="100"/>
<text class="t" x="7" y="14">1 3.3V</text><text class="t" x="7" y="24">2 3.3V</text><text class="t" x="7" y="34">3 RDY</text><text class="t" x="7" y="44">4 FLT</text><text class="t" x="7" y="54">5 GATE</text><text class="t" x="7" y="64">6 12V</text><text class="t" x="7" y="74">7 12V</text><text class="t" x="7" y="84">8 GND</text><text class="t" x="7" y="94">9 GND</text><text class="t" x="7" y="104">10 GND</text>
<text class="t" x="114" y="44" text-anchor="end">1 Drain</text><text class="t" x="114" y="54" text-anchor="end">2 Source</text><text class="t" x="114" y="64" text-anchor="end">3 Gate</text><text class="t" x="114" y="74" text-anchor="end">4 Source</text>
<line class="k" x1="120" y1="40.5" x2="150" y2="40.5"/><line class="w" x1="150" y1="40.5" x2="198" y2="40.5"/><text class="n" x="150" y="39">GD_Drain8</text>
<line class="k" x1="120" y1="50.5" x2="150" y2="50.5"/><line class="w" x1="150" y1="50.5" x2="198" y2="50.5"/><text class="n" x="150" y="49">GD_Source8</text>
<line class="k" x1="120" y1="60.5" x2="150" y2="60.5"/><line class="w" x1="150" y1="60.5" x2="198" y2="60.5"/><text class="n" x="150" y="59">GD_G8</text>
<line class="k" x1="120" y1="70.5" x2="150" y2="70.5"/><line class="w" x1="150" y1="70.5" x2="198" y2="70.5"/><text class="n" x="150" y="69">GD_Source8</text>
<text class="b" x="0" y="-3">GD8</text><text class="bs" x="0" y="119">Isolated gate driver module</text>
</g>

<!-- TITLE BLOCK -->
<g stroke="#000" stroke-width="1" fill="none">
<rect x="558.5" y="628.5" width="351" height="82"/>
<line x1="558.5" y1="658.5" x2="909" y2="658.5"/>
<line x1="558.5" y1="687.5" x2="909" y2="687.5"/>
<line x1="558.5" y1="698.5" x2="909" y2="698.5"/>
<line x1="609.5" y1="658.5" x2="609.5" y2="709"/>
<line x1="809.5" y1="658.5" x2="809.5" y2="687.5"/>
<line x1="759.5" y1="687.5" x2="759.5" y2="709"/>
</g>
<text class="tb" x="564" y="637">Title</text>
<text class="tb" x="564" y="667">Size</text>
<text class="tb" x="569" y="682">A</text>
<text class="tb" x="614" y="667">Number</text>
<text class="tb" x="814" y="667">Revision</text>
<text class="tb" x="564" y="696">Date:</text>
<text class="tb" x="609" y="696">8-25-2025</text>
<text class="tb" x="764" y="696">Sheet&#160;&#160;&#160;of</text>
<text class="tb" x="564" y="707">File:</text>
<text class="tb" x="609" y="707">C:\Users\..\Gate_Driver.SchDoc</text>
<text class="tb" x="764" y="707">Drawn By:</text>
</svg>
</body></html>
